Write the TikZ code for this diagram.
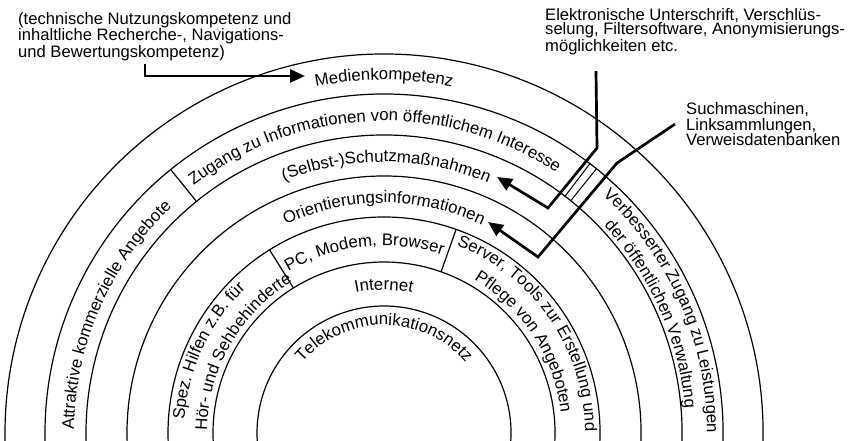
\documentclass[tikz,border=0pt]{standalone}
\usepackage{fontspec}
\setmainfont{Liberation Sans}
\usetikzlibrary{decorations.text,arrows.meta}

\newcommand\arcfont{\fontsize{16.8}{16.8}\selectfont}
% text on a ring: start angle, end angle, radius, text
\newcommand\ringtext[4]{%
  \path[decorate,decoration={text along path,text align=center,
    text={|\arcfont|#4}}] ([shift={(#1:#3)}]c) arc[start angle=#1,end angle=#2,radius=#3];}

\begin{document}
\begin{tikzpicture}[x=1pt,y=1pt,
    ring/.style={line width=1.2pt},
    pointer/.style={line width=2.7pt,-{Triangle[length=15pt,width=13pt]}},
    note/.style={align=left,inner sep=0pt,font=\fontsize{16.6}{14.7}\selectfont}]
\useasboundingbox (0,0) rectangle (850,441);
\coordinate (c) at (384,8);

% rings
\begin{scope}
  \clip (0,0) rectangle (850,441);
  \foreach \r in {127,171,216,257,298,339,379} {
    \draw[ring] ([shift={(-10:\r)}]c) arc[start angle=-10,end angle=190,radius=\r];
  }
\end{scope}

% dividers
\draw[ring] ([shift={(129:298)}]c) -- ([shift={(129:339)}]c);
\draw[line width=1pt] ([shift={(51.2:298)}]c) -- ([shift={(51.2:339)}]c);
\draw[line width=1pt] ([shift={(52.6:298)}]c) -- ([shift={(52.6:339)}]c);
\draw[ring] ([shift={(122:171)}]c) -- ([shift={(122:216)}]c);
\draw[ring] ([shift={(70.5:171)}]c) -- ([shift={(70.5:216)}]c);

% ring labels
\ringtext{140}{40}{353}{Medienkompetenz}
\ringtext{150}{34}{312}{Zugang zu Informationen von öffentlichem Interesse}
\ringtext{140}{39}{271}{(Selbst-)Schutzmaßnahmen}
\ringtext{140}{40}{230}{Orientierungsinformationen}
\ringtext{146}{46.5}{187.5}{PC, Modem, Browser}
\ringtext{140}{40}{143}{Internet}
\ringtext{170}{10}{108}{Telekommunikationsnetz}
\ringtext{200}{112.6}{310}{Attraktive kommerzielle Angebote}
\ringtext{200}{110}{200}{Spez. Hilfen z.B. für}
\ringtext{190}{110.4}{177}{Hör- und Sehbehinderte}
\ringtext{85}{-15.7}{201}{Server, Tools zur Erstellung und}
\ringtext{80}{-14}{178}{Pflege von Angeboten}
\ringtext{75}{-27.6}{323}{Verbesserter Zugang zu Leistungen}
\ringtext{70}{-22}{302}{der öffentlichen Verwaltung}

% notes
\node[note,anchor=north west] (medinote) at (18,429)
  {(technische Nutzungskompetenz und\\inhaltliche Recherche-, Navigations-\\und Bewertungskompetenz)};
\node[note,anchor=north west] (schutznote) at (545,433)
  {Elektronische Unterschrift, Verschlüs-\\selung, Filtersoftware, Anonymisierungs-\\möglichkeiten etc.};
\node[note,anchor=north west,font=\fontsize{16.6}{15.8}\selectfont] (suchnote) at (686,339)
  {Suchmaschinen,\\Linksammlungen,\\Verweisdatenbanken};

% pointers
\coordinate (meditip) at (305,365);
\coordinate (schutztip) at (497,264);
\coordinate (suchtip) at (488,219);
\draw[pointer] ([xshift=127pt,yshift=-3pt]medinote.south west) |- (meditip);
\draw[pointer] ([xshift=51pt,yshift=-16pt]schutznote.south west) -- (597,293) -- (548,233) -- (schutztip);
\draw[pointer] ([xshift=-11pt]suchnote.west) -- (617,278) -- (538,184) -- (suchtip);

\end{tikzpicture}
\end{document}
